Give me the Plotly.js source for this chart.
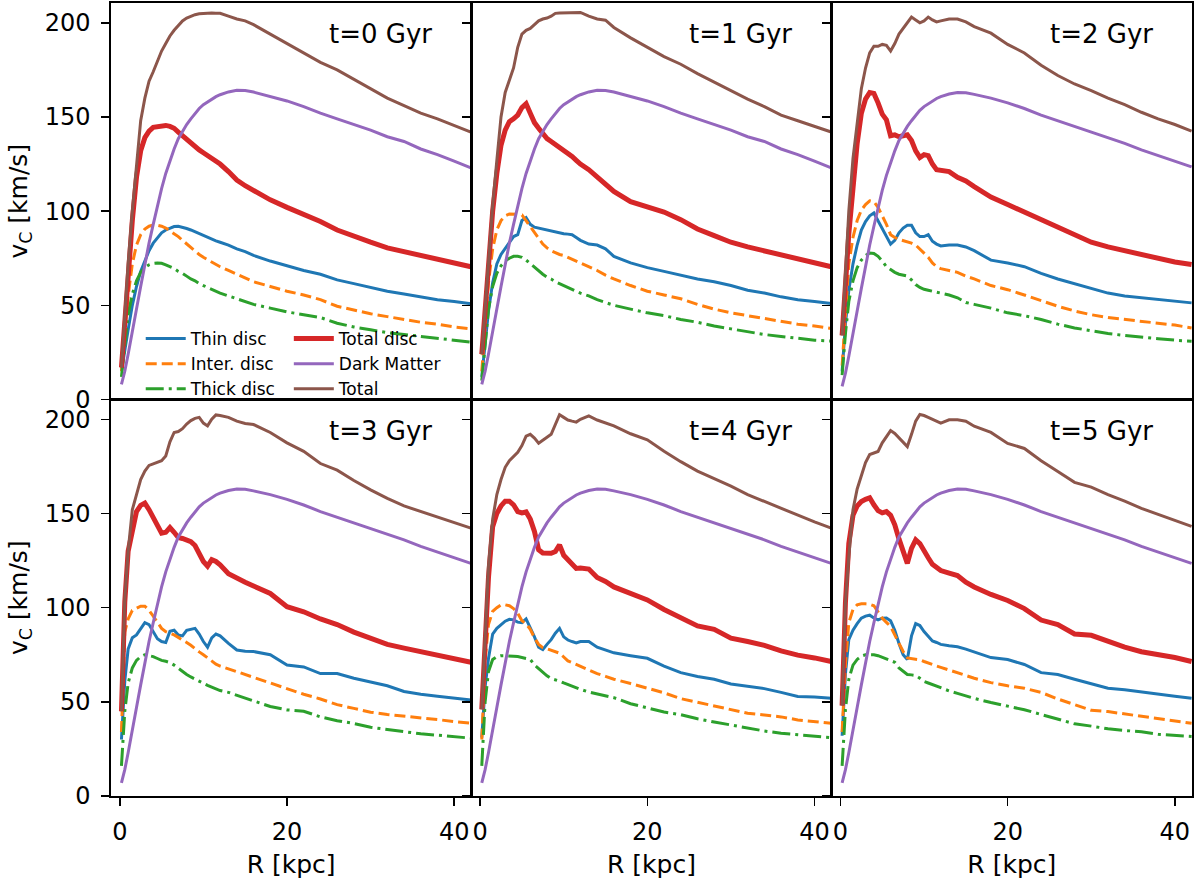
<!DOCTYPE html>
<html>
<head>
<meta charset="utf-8">
<script src="https://cdn.plot.ly/plotly-3.0.1.min.js"></script>
<style>html,body{margin:0;padding:0;background:#fff;}#plot{width:1200px;height:880px;}</style>
</head>
<body>
<div id="plot"></div>
<script>
// Radius grid [kpc]
const R = [0.2, 0.6, 1, 1.5, 2, 2.5, 3, 3.5, 4, 4.5, 5, 5.5, 6, 6.5, 7, 7.5, 8, 8.5, 9, 9.5, 10, 10.5, 11, 11.5, 12, 13, 14, 15, 16, 18, 20, 22, 24, 26, 28, 30, 32, 34, 36, 38, 40, 42];

const panelLabels = ["t=0 Gyr", "t=1 Gyr", "t=2 Gyr", "t=3 Gyr", "t=4 Gyr", "t=5 Gyr"];
const seriesNames = ["Thin disc", "Inter. disc", "Thick disc", "Total disc", "Dark Matter", "Total"];
const xTicks = [0, 20, 40];
const yTicks = [0, 50, 100, 150, 200];

// t = 0 Gyr
const thin_t0  = [15, 25, 37, 50, 60, 68, 74, 79, 83, 86, 88.5, 90, 91, 91.8, 92, 91.5, 90.8, 90, 89, 88, 87, 86, 85, 84.2, 83.5, 82, 80, 78.5, 76.5, 73.5, 71, 68.5, 66.5, 63.5, 61.5, 59.5, 57.5, 56, 54.5, 53, 52, 50.8];
const inter_t0 = [15, 35, 55, 72, 82, 87.5, 90.5, 92, 92.6, 92.5, 92, 91, 89.5, 88, 86.5, 84.5, 82.5, 80.5, 78.5, 77, 75.5, 74.2, 73, 71.8, 70.5, 68.5, 66.5, 64.5, 62.5, 60, 57.5, 55.5, 53, 49.5, 47.5, 45.5, 44, 42.5, 41, 40, 38.5, 37.5];
const thick_t0 = [12, 30, 45, 56, 63, 67.5, 70, 71.5, 72.3, 72.5, 72.3, 71.5, 70.5, 69.5, 68, 67, 65.5, 64, 63, 61.5, 60.5, 59.5, 58.5, 57.5, 56.5, 55, 53.5, 52, 50.5, 48.5, 46.5, 45, 43.5, 40.5, 38.5, 37, 35.5, 34.5, 33.5, 32.5, 31.5, 30.5];
const disc_t0  = [17, 42, 68, 95, 118, 132, 139, 142.5, 144.5, 145, 145.5, 145.5, 145, 144, 142, 140, 138.5, 136.5, 134.5, 132.5, 131, 129.5, 128, 126.5, 125, 121, 116.5, 113.5, 111, 106, 102, 98.5, 94.5, 90, 86.5, 83.5, 80.5, 78.5, 76.5, 74.5, 72.5, 70.5];
const dm_t0    = [8, 15, 24, 37, 48, 60, 72, 83, 93, 103, 112, 120, 127, 133, 138.5, 142.5, 146, 149, 152, 154.5, 156.5, 158, 159.5, 160.8, 161.8, 163.3, 164.2, 164, 163.2, 161, 158.5, 155.5, 152, 149, 146, 143, 139.5, 137, 133, 130, 126.5, 123];
const total_t0 = [17, 45, 72, 100, 125, 148, 160, 169, 174, 180, 185, 189, 193, 196, 198.5, 201, 202.5, 203.5, 204.3, 204.8, 205, 205.1, 205.2, 205.1, 205, 203.5, 202, 201, 199, 194, 189, 184, 179, 175, 170, 165, 160, 156, 152, 149, 145.5, 142];

// t = 1 Gyr
const thin_t1  = [12, 30, 47, 62, 72, 77, 80, 83.5, 86.5, 87.5, 95, 96.5, 93, 91.5, 91, 90.5, 89.8, 89.5, 89, 88.5, 88, 87.8, 87.5, 86, 84.5, 82.5, 82, 80, 76, 72.5, 70, 68, 66, 64, 62.5, 60.5, 58, 56.5, 54.5, 53, 52, 51];
const inter_t1 = [15, 40, 62, 80, 90, 95, 97.5, 98.5, 98.5, 98.3, 98, 95, 92, 89, 85.5, 82.5, 80.5, 79, 78, 77, 76.5, 75.5, 74.5, 73.5, 72.5, 70.5, 68.5, 66, 64, 60.5, 57.5, 55.5, 53.5, 50.5, 48, 46, 44.5, 43, 41.5, 40, 39, 37.7];
const thick_t1 = [10, 30, 48, 60, 67, 71, 73.5, 75, 76, 76, 75.5, 74, 72, 70, 68, 66.5, 65, 64, 62.5, 61.5, 60.5, 59.5, 58.5, 57.5, 56.5, 55, 53, 51.5, 50, 48, 46, 44.5, 42.5, 41, 39, 37.5, 36, 34.5, 33.5, 32.5, 31.5, 31];
const disc_t1  = [24, 50, 75, 100, 120, 135, 143, 147.5, 149, 151, 155, 157, 152, 147, 144, 141, 138.5, 137, 135.5, 133.5, 132, 130.5, 129, 127, 125, 122, 118, 114, 110.5, 105, 102, 99.5, 95.5, 90.5, 87, 83.5, 81, 79, 77, 75, 73, 70.5];
const dm_t1    = [8, 15, 24, 37, 48, 60, 72, 83, 93, 103, 112, 120, 127, 133, 138.5, 142.5, 146, 149, 152, 154.5, 156.5, 158, 159.5, 160.8, 161.8, 163.3, 164.2, 164, 163.2, 161, 158.5, 155.5, 152, 149, 146, 143, 139.5, 137, 133, 130, 126.5, 123];
const total_t1 = [24, 50, 75, 103, 127, 150, 163, 169, 176, 187, 194, 196, 197, 199, 201, 202, 202.5, 203.5, 205, 205.2, 205.3, 205.4, 205.5, 205.5, 205.5, 203.5, 202, 201.4, 197.5, 192, 187, 182, 178, 173, 168.5, 164, 159.5, 155.5, 151, 148, 145, 142];

// t = 2 Gyr
const thin_t2  = [15, 40, 58, 72, 82, 90, 94.5, 97.5, 99, 95, 91, 87, 82.5, 84.5, 88.5, 91, 92.5, 92.5, 88.5, 86.5, 86.5, 87.5, 84, 82.5, 81.5, 82, 82, 81, 79, 74, 72.5, 70.5, 67, 64, 61.5, 59, 56.5, 55, 54, 53, 52, 51.3];
const inter_t2 = [18, 48, 72, 86, 95, 100.5, 103.5, 105.5, 105, 102, 97.5, 93, 87.5, 86, 85, 84.3, 84, 83, 82, 80, 78, 75.5, 72.5, 70.5, 69.5, 68.5, 67.5, 65.5, 64, 60.5, 58.3, 55.5, 52.5, 49.5, 47, 45, 43.5, 42.5, 41.5, 40.5, 39.5, 38];
const thick_t2 = [13, 35, 52, 63, 70, 74, 76.5, 77.8, 77.5, 76, 73.5, 70.5, 69, 67.5, 66.5, 66, 65.5, 63.5, 61, 59.5, 58.5, 58, 57.5, 57, 56.5, 55.5, 54, 51.5, 50.5, 48.5, 46, 44.5, 42.5, 40, 38, 36.5, 35, 34, 33, 32.3, 31.5, 30.9];
const disc_t2  = [34, 65, 88, 112, 136, 152, 159.5, 163, 162.5, 157.5, 151.5, 148.5, 140, 140.5, 139.5, 140, 140.5, 137.5, 132, 128.5, 130, 129.5, 125, 122, 121.5, 121, 118, 116, 113, 107.5, 103.5, 99.5, 95, 91, 87, 83.5, 81, 79, 76.5, 74.5, 73, 71.7];
const dm_t2    = [7, 14, 23, 36, 47, 59, 71, 82, 92, 102, 111, 119, 126, 132, 137.5, 141.5, 145, 148, 151, 153.5, 155.5, 157, 158.5, 159.8, 160.8, 162.2, 163, 162.8, 162, 160, 157.5, 154.5, 151, 148, 145, 142, 139, 136, 132.5, 129.5, 126.5, 123.5];
const total_t2 = [34, 70, 100, 128, 148, 165, 176, 184, 187.5, 187.5, 188.5, 188, 185, 189, 194, 197, 200.5, 203, 201.5, 200, 201, 203, 201.5, 200.5, 201, 202, 202, 200.5, 198, 194.5, 188.5, 184, 177.5, 172, 167.5, 164, 160, 156.5, 152.5, 149, 146, 142.5];

// t = 3 Gyr
const thin_t3  = [30, 61, 78, 84, 85.5, 89, 92, 91, 87.5, 83.5, 82, 81.5, 87.5, 88, 85.5, 85, 88, 88.5, 89, 86, 82, 79, 84, 86, 85, 81, 77.5, 76.8, 76.7, 75, 69.5, 68.5, 65, 65, 62.5, 60.5, 58.5, 55.5, 54, 53, 52, 51];
const inter_t3 = [34, 87, 94, 98.5, 99.7, 100.8, 100.8, 98.5, 95.5, 92, 89, 87.2, 86.4, 85.5, 84.2, 83, 81.5, 80, 78, 76.5, 75, 73.2, 71.5, 70, 69, 67.5, 66, 64.7, 63, 60, 57, 54, 51.5, 48.5, 46.5, 44.5, 43.3, 42.5, 41.5, 40.6, 39.5, 38.6];
const thick_t3 = [16, 45, 60, 68, 72, 74, 75, 74.5, 74, 73, 72, 71.5, 70.8, 69.5, 67.8, 66, 64.5, 63.2, 62, 61, 60, 58.7, 57.8, 56.8, 56, 55, 53.5, 52.3, 50.5, 47.5, 45.7, 45, 42, 40, 38.5, 36.5, 35.3, 34, 33, 32.3, 31.5, 30.7];
const disc_t3  = [45, 103, 130, 142, 151, 154.3, 155.5, 152, 147.5, 143, 139.5, 140, 142.5, 140, 137.2, 136.7, 136, 135, 133, 129, 124.5, 122, 125.5, 124.5, 122.7, 118, 115.5, 113.5, 111.5, 107.5, 100.5, 97.8, 94, 91, 87, 83.5, 80.5, 78.5, 76.5, 74.5, 72.8, 71];
const dm_t3    = [7, 14, 23, 36, 47, 59, 71, 82, 92, 102, 111, 119, 126, 132, 137.5, 141.5, 145, 148, 151, 153.5, 155.5, 157, 158.5, 159.8, 160.8, 162.2, 163, 162.8, 162, 160, 157.5, 154.5, 151, 148, 145, 142, 139, 136, 132.5, 129.5, 126.5, 123.5];
const total_t3 = [45, 105, 130, 152, 160, 168, 172.5, 175.5, 176.3, 177, 178, 180.5, 188, 193, 193.5, 195, 197.5, 199.3, 200.5, 201, 198, 196.5, 200, 202.3, 202, 201, 199, 197.8, 197.2, 193, 187.5, 183, 176.5, 173, 167.5, 162.5, 158, 154, 151, 148.3, 145, 142.2];

// t = 4 Gyr
const thin_t4  = [31, 58, 73, 86, 89, 91, 92.8, 93.8, 93.5, 92.3, 92, 94, 89.5, 84.5, 79, 77.7, 80.5, 83, 86.4, 89, 84.5, 82.8, 82, 81.3, 82, 82, 79, 77.6, 76, 74.5, 73.1, 69, 65.5, 63.4, 62, 59.5, 58.1, 57, 55, 52.8, 52.5, 51.9];
const inter_t4 = [30, 72, 91, 98, 100, 101.5, 101.5, 101, 99.5, 97, 93, 91.5, 88.5, 84, 80.5, 78.8, 78.2, 77.5, 76.8, 75.8, 73.8, 71.7, 70.8, 69.8, 69, 67, 65, 63.5, 62, 59.7, 57.2, 54.8, 51.7, 49.8, 47.8, 45.7, 43.9, 43, 42, 40.4, 39.5, 38.6];
const thick_t4 = [16, 50, 66, 72.5, 74, 74.5, 74.5, 74.5, 74.2, 74, 73.5, 73, 72.5, 69.6, 67.5, 65.5, 63.8, 62.3, 61.8, 61, 60, 59.1, 58.3, 57.4, 56.6, 55.2, 54.2, 53.3, 52.2, 49, 46.8, 44.6, 43.2, 41, 39.3, 37.7, 36, 34.5, 33.3, 32.5, 31.8, 31];
const disc_t4  = [46, 85, 116, 143, 150, 154, 156.5, 156.5, 154.6, 151, 150.3, 150.8, 147, 140.4, 130.7, 129, 128.9, 128.9, 129.8, 133.3, 127.8, 125.3, 123.3, 120.8, 121, 120.5, 116, 113.9, 111, 107.5, 104.1, 99, 95, 90.3, 88.5, 83.8, 82, 80, 77, 74.8, 73.3, 71.4];
const dm_t4    = [7, 14, 23, 36, 47, 59, 71, 82, 92, 102, 111, 119, 126, 132, 137.5, 141.5, 145, 148, 151, 153.5, 155.5, 157, 158.5, 159.8, 160.8, 162.2, 163, 162.8, 162, 160, 157.5, 154.5, 151, 148, 145, 142, 139, 136, 132.5, 129.5, 126.5, 123.5];
const total_t4 = [46, 88, 122, 147, 160, 168, 174.5, 178, 180.3, 182.5, 186, 191, 192, 190, 187.3, 188.7, 190.5, 192, 197.5, 202.4, 201, 199.6, 199, 198.5, 200, 201.8, 199.6, 198, 196.5, 192.3, 189.1, 183, 177.5, 172.5, 168.5, 164.5, 160, 156.3, 152.5, 148.8, 145.5, 142.2];

// t = 5 Gyr
const thin_t5  = [32, 65, 83, 88, 91.5, 94.4, 95.5, 96, 94.5, 93.5, 94.4, 94.5, 93, 88, 81, 75, 72.5, 85, 91.5, 90.5, 87.3, 85, 82.3, 81.5, 80.5, 79.8, 79.2, 78, 76.5, 73.5, 72.5, 69.8, 65.5, 64.5, 62, 59.7, 57.2, 56.4, 55.4, 54, 53, 51.9];
const inter_t5 = [34, 70, 92, 99, 101.5, 102, 102, 101.8, 101, 97.5, 94.4, 92.2, 90, 85.5, 81, 76.7, 73.3, 73, 73, 72.3, 71.4, 70.5, 69.7, 69, 68.3, 67, 65.7, 64, 62.5, 60.2, 58.5, 57.2, 55, 51.5, 48.5, 45.5, 44.8, 43.5, 42.2, 41, 39.6, 38.6];
const thick_t5 = [16, 46, 62, 69.5, 72.5, 74.3, 75, 75, 75, 74.5, 73.7, 72.8, 72, 71, 68, 66, 64.5, 64.3, 64, 62.5, 60.8, 60, 59.1, 58.3, 57.5, 55.8, 54.5, 53, 51.8, 49.6, 47.8, 45.8, 43.3, 40.8, 38.3, 37.1, 35.7, 34.8, 34.1, 32.8, 32.1, 31.6];
const disc_t5  = [48, 103, 134, 149, 154, 156.3, 157.5, 158.3, 154.6, 151.5, 150.3, 151, 149, 144, 136.5, 130, 123.5, 131.5, 136, 134, 129.8, 126.5, 123, 121, 119.7, 118.3, 117, 113.5, 111, 107, 103.8, 99.5, 93.4, 91, 86, 85.3, 82, 79, 76.6, 75.3, 73.5, 71.4];
const dm_t5    = [7, 14, 23, 36, 47, 59, 71, 82, 92, 102, 111, 119, 126, 132, 137.5, 141.5, 145, 148, 151, 153.5, 155.5, 157, 158.5, 159.8, 160.8, 162.2, 163, 162.8, 162, 160, 157.5, 154.5, 151, 148, 145, 142, 139, 136, 132.5, 129.5, 126.5, 123.5];
const total_t5 = [48, 103, 127, 152, 163, 170.5, 177, 181.3, 182, 182.9, 187.5, 191, 194, 192.5, 190, 187.5, 185.5, 192, 199, 202.5, 202, 201, 200, 198.8, 198, 199.7, 199.7, 199, 196.3, 193, 187.2, 184.5, 178, 172.3, 166.5, 164, 160, 156.5, 152.7, 149.5, 146.2, 143.1];

const panels = [
  [thin_t0, inter_t0, thick_t0, disc_t0, dm_t0, total_t0],
  [thin_t1, inter_t1, thick_t1, disc_t1, dm_t1, total_t1],
  [thin_t2, inter_t2, thick_t2, disc_t2, dm_t2, total_t2],
  [thin_t3, inter_t3, thick_t3, disc_t3, dm_t3, total_t3],
  [thin_t4, inter_t4, thick_t4, disc_t4, dm_t4, total_t4],
  [thin_t5, inter_t5, thick_t5, disc_t5, dm_t5, total_t5]
];

const styles = [
  {color: '#1f77b4', width: 3, dash: 'solid'},
  {color: '#ff7f0e', width: 3, dash: '11px,5px'},
  {color: '#2ca02c', width: 3, dash: '18px,5px,3px,5px'},
  {color: '#d62728', width: 5, dash: 'solid'},
  {color: '#9467bd', width: 3, dash: 'solid'},
  {color: '#8c564b', width: 3, dash: 'solid'}
];

const FONT = 'DejaVu Sans, Liberation Sans, sans-serif';
const traces = [];
const legendCommon = {
  xanchor: 'left', yanchor: 'bottom',
  bgcolor: 'rgba(0,0,0,0)', borderwidth: 0,
  font: {family: FONT, size: 17, color: '#000'},
  tracegroupgap: 0, itemwidth: 40, orientation: 'v'
};
const layout = {
  width: 1200, height: 880,
  margin: {l: 111, r: 8, t: 3, b: 84, pad: 0},
  paper_bgcolor: '#fff', plot_bgcolor: '#fff',
  font: {family: FONT, color: '#000', size: 24},
  showlegend: true,
  annotations: [],
  legend: Object.assign({x: 0.0275, y: 0.4905}, legendCommon),
  legend2: Object.assign({x: 0.1645, y: 0.4905}, legendCommon)
};

panels.forEach((series, p) => {
  const n = p + 1;
  const row = p < 3 ? 0 : 1;
  const col = p % 3;
  const xa = 'xaxis' + (n === 1 ? '' : n);
  const ya = 'yaxis' + (n === 1 ? '' : n);
  const xr = 'x' + (n === 1 ? '' : n);
  const yr = 'y' + (n === 1 ? '' : n);
  const xaxis = {
    domain: [col / 3, (col + 1) / 3], anchor: yr,
    range: [-1.05, 42.05], autorange: false,
    showline: true, mirror: true, linecolor: '#000', linewidth: 1.6,
    showgrid: false, zeroline: false,
    ticks: row === 1 ? 'outside' : '', ticklen: 8, tickwidth: 1.5, tickcolor: '#000',
    tickvals: xTicks, ticktext: xTicks.map(String),
    showticklabels: row === 1, ticklabelstandoff: 6,
    tickfont: {family: FONT, size: 24, color: '#000'}
  };
  if (row === 1) xaxis.title = {text: 'R [kpc]', font: {family: FONT, size: 25, color: '#000'}, standoff: 10};
  const yaxis = {
    domain: row === 0 ? [0.5, 1] : [0, 0.5], anchor: xr,
    range: [0, 210.5], autorange: false,
    showline: true, mirror: true, linecolor: '#000', linewidth: 1.6,
    showgrid: false, zeroline: false,
    ticks: 'outside', ticklen: 8, tickwidth: 1.5, tickcolor: '#000',
    tickvals: yTicks, ticktext: yTicks.map(String),
    showticklabels: col === 0, ticklabelstandoff: 6,
    tickfont: {family: FONT, size: 24, color: '#000'}
  };
  if (col === 0) yaxis.title = {text: 'v<sub>C</sub> [km/s]', font: {family: FONT, size: 25, color: '#000'}, standoff: 10};
  layout[xa] = xaxis;
  layout[ya] = yaxis;
  series.forEach((vals, s) => {
    traces.push({
      type: 'scatter', mode: 'lines',
      x: R, y: vals, xaxis: xr, yaxis: yr,
      name: seriesNames[s],
      line: {color: styles[s].color, width: styles[s].width, dash: styles[s].dash, shape: 'linear'},
      showlegend: p === 0,
      legend: s < 3 ? 'legend' : 'legend2',
      hoverinfo: 'skip'
    });
  });
  layout.annotations.push({
    xref: xr, yref: yr, x: 37.6, y: 194, xanchor: 'right', yanchor: 'middle',
    text: panelLabels[p], showarrow: false,
    font: {family: FONT, size: 26, color: '#000'}
  });
});

Plotly.newPlot('plot', traces, layout, {staticPlot: true, displayModeBar: false});
</script>
</body>
</html>
